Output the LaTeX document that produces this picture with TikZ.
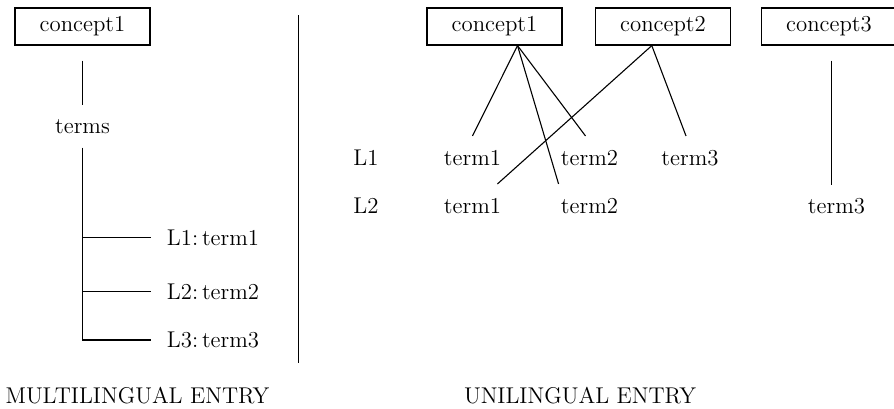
\documentclass[tikz,border=0pt]{standalone}
\usepackage{tikz}

\tikzset{
  concept/.style={draw, line width=0.6pt, minimum width=67.5pt, minimum height=18.5pt, inner sep=0pt},
  lbl/.style={anchor=base, inner sep=0pt},
  link/.style={line width=0.55pt}
}

\begin{document}
\begin{tikzpicture}[x=0.5pt,y=-0.5pt,font=\fontsize{11.4}{13.5}\selectfont]
\useasboundingbox (0,0) rectangle (894,408);
% multilingual side
\node[concept] (lc) at (82.5,26.5) {concept1};
\node[lbl] (terms) at (82.5,133) {terms};
\node[lbl,anchor=base west] (lt1) at (166.5,245) {L1:\,term1};
\node[lbl,anchor=base west] (lt2) at (166.5,299) {L2:\,term2};
\node[lbl,anchor=base west] (lt3) at (166.5,347.5) {L3:\,term3};
\draw[link, shorten <=7.5pt, shorten >=6.75pt] (lc.south) -- (terms.north);
\draw[link, shorten <=7pt, line join=miter] (terms.south) -- (terms.south |- lt3.west) -- ([xshift=-8pt]lt3.west);
\foreach \t in {lt1,lt2}
  \draw[link, shorten >=8pt] (terms.south |- \t.west) -- (\t.west);
\node[lbl] (multi) at (137.5,403) {MULTILINGUAL ENTRY};
\draw[link] (298.3,15) -- (298.3,362.7);
% unilingual side
\node[concept] (rc1) at (494.5,26.5) {concept1};
\node[concept] (rc2) at (663,26.5) {concept2};
\node[concept] (rc3) at (829,26.5) {concept3};
\node[lbl] (l1) at (366,165.5) {L1};
\node[lbl] (l2) at (366,213.5) {L2};
\node[lbl] (t11) at (472.5,165.5) {term1};
\node[lbl] (t12) at (589.5,165.5) {term2};
\node[lbl] (t13) at (690,165.5) {term3};
\node[lbl] (t21) at (472.5,213.5) {term1};
\node[lbl] (t22) at (589.5,213.5) {term2};
\node[lbl] (t3) at (836.5,213.5) {term3};
\coordinate (rc1b) at ([xshift=11.5pt]rc1.south);
\coordinate (rc2b) at ([xshift=-5.6pt]rc2.south);
\draw[link] (rc1b) -- ([yshift=7pt]t11.north);
\draw[link] (rc1b) -- ([xshift=-2pt,yshift=7pt]t12.north);
\draw[link] (rc1b) -- ([xshift=-1pt,yshift=7pt]t22.north west);
\draw[link] (rc2b) -- ([xshift=-2pt,yshift=7pt]t21.north east);
\draw[link] (rc2b) -- ([xshift=-2pt,yshift=7pt]t13.north);
\draw[link, shorten <=7.5pt, shorten >=6.5pt] ([xshift=1.3pt]rc3.south) -- ([xshift=1.3pt]rc3.south |- t3.north);
\node[lbl] (uni) at (580,403) {UNILINGUAL ENTRY};
\end{tikzpicture}
\end{document}
